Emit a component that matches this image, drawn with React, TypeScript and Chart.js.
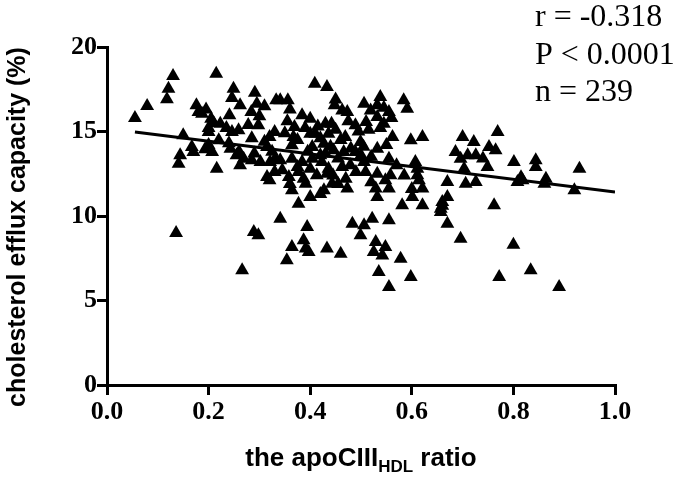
import React, { useEffect, useRef } from "react";
import { Chart, registerables } from "chart.js";

Chart.register(...registerables);

// apoCIII_HDL ratio (x) for each subject
const ratioValues: number[] = [
  0.130, 0.215, 0.121, 0.118, 0.079, 0.055, 0.249, 0.246, 0.262, 0.176,
  0.180, 0.187, 0.205, 0.241, 0.223, 0.200, 0.246, 0.259, 0.278, 0.150,
  0.167, 0.170, 0.193, 0.207, 0.220, 0.243, 0.144, 0.141, 0.216, 0.262,
  0.269, 0.136, 0.266,
  0.409, 0.433, 0.291, 0.333, 0.341, 0.356, 0.295, 0.284, 0.298, 0.330,
  0.320, 0.315, 0.384, 0.400, 0.369, 0.367, 0.364, 0.400, 0.410, 0.430,
  0.442, 0.436, 0.448, 0.463, 0.473, 0.506, 0.519, 0.489, 0.510, 0.469,
  0.499, 0.466, 0.489, 0.404, 0.427, 0.430, 0.446, 0.285, 0.302, 0.331,
  0.341, 0.321, 0.364, 0.384, 0.404, 0.423, 0.436, 0.463, 0.479, 0.506,
  0.509, 0.315, 0.358, 0.377, 0.413, 0.387,
  0.320, 0.364, 0.391, 0.400, 0.377, 0.427, 0.443, 0.473, 0.433, 0.341,
  0.289, 0.298, 0.394, 0.387, 0.364, 0.391, 0.397, 0.354, 0.433, 0.460,
  0.483, 0.506, 0.499,
  0.538, 0.532, 0.584, 0.591, 0.555, 0.532, 0.545, 0.562, 0.598, 0.621,
  0.532, 0.555, 0.607, 0.611, 0.700, 0.722, 0.686, 0.696, 0.726, 0.752,
  0.765, 0.769, 0.749, 0.703,
  0.532, 0.558, 0.548, 0.611, 0.614, 0.529, 0.555, 0.532, 0.621, 0.601,
  0.581, 0.621, 0.670, 0.706, 0.726, 0.670, 0.660, 0.657, 0.657, 0.670,
  0.696, 0.762, 0.522, 0.555, 0.529, 0.548, 0.525, 0.542, 0.578, 0.535,
  0.598, 0.555, 0.772,
  0.801, 0.844, 0.844, 0.808, 0.818, 0.864, 0.861, 0.930, 0.920,
  0.800, 0.834, 0.890,
  0.195, 0.210, 0.235, 0.240, 0.200, 0.255, 0.300, 0.310, 0.325, 0.350,
  0.355, 0.375, 0.390, 0.395, 0.415, 0.420, 0.420, 0.440, 0.450, 0.455,
  0.460, 0.475, 0.480, 0.495, 0.500, 0.505, 0.515, 0.520, 0.538, 0.545,
  0.550, 0.560, 0.570, 0.585, 0.600, 0.375, 0.345, 0.330, 0.400, 0.445,
  0.470, 0.490, 0.520, 0.260, 0.285, 0.290, 0.360, 0.420, 0.455, 0.660,
  0.710, 0.740, 0.815, 0.310, 0.450, 0.200, 0.360,
];

// cholesterol efflux capacity (%) for each subject
const effluxValues: number[] = [
  18.28, 18.42, 17.53, 16.91, 16.51, 15.80, 17.53, 16.98, 16.55, 16.55,
  16.15, 16.05, 15.76, 15.96, 15.46, 14.97, 14.97, 15.07, 15.38, 14.78,
  14.08, 13.79, 13.95, 13.79, 14.48, 13.98, 13.59, 13.09, 12.80, 13.00,
  13.39, 8.99, 6.79,
  17.83, 17.63, 17.30, 16.85, 16.85, 16.85, 16.64, 16.15, 15.37, 14.97,
  14.67, 14.08, 15.96, 15.76, 15.27, 14.67, 14.18, 14.87, 14.87, 15.46,
  15.46, 14.87, 16.55, 16.25, 16.15, 16.64, 16.25, 15.37, 15.56, 14.67,
  14.38, 13.79, 13.79, 14.08, 14.28, 13.69, 13.89, 13.30, 13.20, 13.39,
  13.30, 13.20, 13.39, 13.20, 13.39, 13.20, 12.80, 12.90, 13.00, 13.20,
  12.60, 12.31, 12.31, 12.60, 12.41, 12.21,
  12.11, 11.52, 11.91, 11.12, 10.73, 11.52, 11.91, 11.62, 12.50, 9.84,
  9.05, 8.86, 9.35, 8.56, 8.17, 8.07, 7.87, 7.38, 8.07, 7.77,
  9.54, 9.45, 8.86,
  17.04, 16.55, 16.85, 16.35, 16.15, 15.86, 15.46, 14.67, 14.48, 14.67,
  13.98, 13.39, 13.20, 12.80, 14.67, 14.38, 13.79, 13.39, 13.59, 14.08,
  13.89, 14.97, 12.90, 12.80,
  12.50, 12.41, 12.11, 12.41, 12.11, 11.62, 11.62, 11.12, 11.62, 11.12,
  10.63, 10.63, 12.01, 11.91, 12.01, 11.12, 10.83, 10.43, 10.24, 9.54,
  8.66, 10.63, 9.84, 9.75, 8.46, 8.17, 7.87, 7.67, 7.47, 6.69,
  6.39, 5.80, 6.39,
  13.20, 13.30, 12.90, 12.01, 12.11, 12.21, 11.91, 12.80, 11.52,
  8.30, 6.79, 5.80,
  16.30, 15.50, 15.20, 14.30, 14.20, 13.60, 15.90, 14.40, 13.80, 14.90,
  15.60, 14.50, 15.20, 13.80, 15.30, 14.60, 13.60, 14.10, 15.10, 13.40,
  14.50, 15.60, 14.00, 15.00, 13.60, 14.10, 15.10, 13.50, 15.20, 16.40,
  14.20, 15.80, 13.00, 12.40, 11.60, 12.90, 12.70, 12.60, 12.80, 12.40,
  12.20, 12.60, 12.00, 13.80, 14.60, 13.70, 11.90, 11.30, 11.90, 10.60,
  13.60, 13.40, 12.30, 16.50, 16.90, 15.20, 16.30,
];

// regression line end points
const fitX: number[] = [0.055, 1.0];
const fitY: number[] = [14.97, 11.42];

const xTicks: number[] = [0, 0.2, 0.4, 0.6, 0.8, 1.0];
const yTicks: number[] = [0, 5, 10, 15, 20];

const statLines: string[] = ["r = -0.318", "P < 0.0001", "n = 239"];
const yTitle = "cholesterol efflux capacity (%)";
const xTitleMain = "the apoCIII";
const xTitleSub = "HDL";
const xTitleEnd = " ratio";

const SERIF = '"Liberation Serif", "Times New Roman", serif';
const SANS = '"Liberation Sans", Arial, sans-serif';

export default function App() {
  const canvasRef = useRef<HTMLCanvasElement | null>(null);

  useEffect(() => {
    document.body.style.margin = "0";
    const canvas = canvasRef.current;
    if (!canvas) return;

    const textPlugin = {
      id: "textPlugin",
      afterDraw(chart: any) {
        const ctx = chart.ctx as CanvasRenderingContext2D;
        const area = chart.chartArea;
        ctx.save();
        ctx.fillStyle = "#000";
        // stats
        ctx.font = `32px ${SERIF}`;
        ctx.textAlign = "left";
        ctx.textBaseline = "alphabetic";
        const baselines = [26, 63.5, 101];
        statLines.forEach((s, i) => ctx.fillText(s, 535, baselines[i]));

        // y title
        ctx.save();
        ctx.font = `bold 25px ${SANS}`;
        ctx.translate(18, (area.top + area.bottom) / 2 + 11);
        ctx.rotate(-Math.PI / 2);
        ctx.textAlign = "center";
        ctx.textBaseline = "middle";
        ctx.fillText(yTitle, 0, 0);
        ctx.restore();

        // x title with subscript
        const mainFont = `bold 26px ${SANS}`;
        const subFont = `bold 17px ${SANS}`;
        ctx.font = mainFont;
        const w1 = ctx.measureText(xTitleMain).width;
        const w3 = ctx.measureText(xTitleEnd).width;
        ctx.font = subFont;
        const w2 = ctx.measureText(xTitleSub).width;
        const total = w1 + w2 + w3;
        const cx = (area.left + area.right) / 2;
        let x = cx - total / 2;
        const base = 466;
        ctx.textAlign = "left";
        ctx.textBaseline = "alphabetic";
        ctx.font = mainFont;
        ctx.fillText(xTitleMain, x, base);
        x += w1;
        ctx.font = subFont;
        ctx.fillText(xTitleSub, x, base + 6);
        x += w2;
        ctx.font = mainFont;
        ctx.fillText(xTitleEnd, x, base);
        ctx.restore();
      },
    };

    const points = ratioValues.map((r, i) => ({ x: r, y: effluxValues[i] }));
    const fit = fitX.map((x, i) => ({ x, y: fitY[i] }));

    const chart = new Chart(canvas, {
      type: "scatter",
      data: {
        datasets: [
          {
            data: points,
            pointStyle: "triangle",
            pointRadius: 8,
            pointHoverRadius: 8,
            pointBorderWidth: 0,
            backgroundColor: "#000",
            borderColor: "#000",
          },
          {
            data: fit,
            showLine: true,
            pointRadius: 0,
            borderColor: "#000",
            borderWidth: 3,
            fill: false,
          } as any,
        ],
      },
      options: {
        animation: false,
        responsive: true,
        maintainAspectRatio: false,
        devicePixelRatio: 1,
        layout: { padding: { left: 0, right: 60, top: 47, bottom: 0 } },
        plugins: {
          legend: { display: false },
          tooltip: { enabled: false },
        },
        scales: {
          x: {
            type: "linear",
            min: 0,
            max: 1,
            afterBuildTicks: (s: any) => {
              s.ticks = xTicks.map((v) => ({ value: v }));
            },
            afterFit: (s: any) => {
              s.height = 94;
            },
            ticks: {
              callback: (v: any) => Number(v).toFixed(1),
              color: "#000",
              font: { family: SERIF, size: 26, weight: "bold" },
              padding: 2,
              maxRotation: 0,
            },
            grid: {
              display: true,
              drawOnChartArea: false,
              drawTicks: true,
              tickLength: 10,
              lineWidth: 3,
              color: "#000",
            },
            border: { display: true, width: 3, color: "#000" },
          },
          y: {
            type: "linear",
            min: 0,
            max: 20,
            afterBuildTicks: (s: any) => {
              s.ticks = yTicks.map((v) => ({ value: v }));
            },
            afterFit: (s: any) => {
              s.width = 107;
            },
            ticks: {
              color: "#000",
              font: { family: SERIF, size: 26, weight: "bold" },
              padding: 0,
            },
            grid: {
              display: true,
              drawOnChartArea: false,
              drawTicks: true,
              tickLength: 10,
              lineWidth: 3,
              color: "#000",
            },
            border: { display: true, width: 3, color: "#000" },
          },
        },
      },
      plugins: [textPlugin],
    });

    return () => chart.destroy();
  }, []);

  return (
    <div style={{ position: "absolute", left: 0, top: 0, width: 675, height: 479, background: "#fff" }}>
      <canvas ref={canvasRef} />
    </div>
  );
}
